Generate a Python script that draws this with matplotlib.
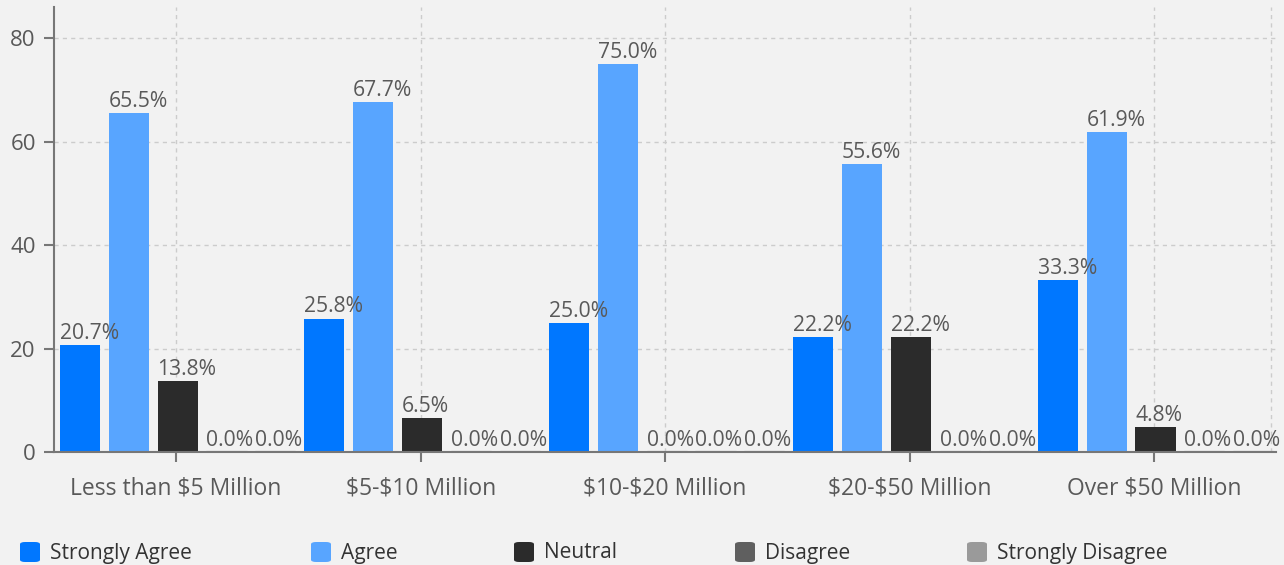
import numpy as np
import matplotlib.pyplot as plt
from matplotlib.patches import FancyBboxPatch

categories = ['Less than $5 Million', '$5-$10 Million', '$10-$20 Million',
              '$20-$50 Million', 'Over $50 Million']
series = ['Strongly Agree', 'Agree', 'Neutral', 'Disagree', 'Strongly Disagree']
strongly_agree = [20.7, 25.8, 25.0, 22.2, 33.3]
agree = [65.5, 67.7, 75.0, 55.6, 61.9]
neutral = [13.8, 6.5, 0.0, 22.2, 4.8]
disagree = [0.0, 0.0, 0.0, 0.0, 0.0]
strongly_disagree = [0.0, 0.0, 0.0, 0.0, 0.0]
yticks = [0, 20, 40, 60, 80]

colors = ['#0077ff', '#58a5ff', '#2b2b2b', '#5f5f5f', '#9a9a9a']
values = [strongly_agree, agree, neutral, disagree, strongly_disagree]

bg = '#f2f2f2'
txt = '#595959'
plt.rcParams['font.family'] = ['Open Sans', 'DejaVu Sans']
plt.rcParams['text.parse_math'] = False

fig = plt.figure(figsize=(12.84, 5.65), dpi=100, facecolor=bg)
ax = fig.add_axes([0.042, 0.2, 0.952, 0.7876])
ax.set_facecolor(bg)

x = np.arange(len(categories))
step, width = 0.2, 0.164
for i, (name, vals, c) in enumerate(zip(series, values, colors)):
    pos = x + (i - 2) * step + 0.006
    ax.bar(pos, vals, width, color=c, zorder=3)
    for p, v in zip(pos, vals):
        if v == 0:
            ax.plot([p - width / 2, p + width / 2], [0, 0], color='#cfcfcf',
                    lw=2.5, zorder=3, solid_capstyle='butt')
        ax.text(p - width / 2, v + 0.2, f'{v:.1f}%', ha='left', va='bottom',
                fontsize=15.2, color=txt, zorder=4)

ax.set_xlim(-0.5, 4.5)
ax.set_ylim(0, 86)
ax.set_yticks(yticks)
ax.set_xticks(x)
ax.set_xticklabels(categories)
ax.grid(True, color='#cccccc', linestyle=(0, (3, 3)), lw=1, zorder=0)
ax.axvline(4.48, color='#cccccc', linestyle=(0, (3, 3)), lw=1, zorder=0)

for s in ['top', 'right']:
    ax.spines[s].set_visible(False)
for s in ['left', 'bottom']:
    ax.spines[s].set_color('#777777')
    ax.spines[s].set_linewidth(1.5)
    ax.spines[s].set_zorder(5)
ax.tick_params(axis='y', length=7, width=1.5, color='#777777', labelsize=16,
               labelcolor=txt, pad=6)
ax.tick_params(axis='x', length=7, width=1.5, color='#777777', labelsize=16.5,
               labelcolor=txt, pad=11)

# legend row along the bottom
leg_x = [20, 311, 514, 735, 967]
for lx, name, c in zip(leg_x, series, colors):
    fx, fy = lx / 1284, (565 - 562) / 565
    patch = FancyBboxPatch((fx, fy), 20 / 1284, 20 / 565,
                           boxstyle='round,pad=0,rounding_size=0.004',
                           transform=fig.transFigure, facecolor=c,
                           edgecolor='none')
    fig.patches.append(patch)
    fig.text((lx + 30) / 1284, (565 - 553) / 565, name, ha='left',
             va='center', fontsize=15, color='#333333')

fig.savefig('out.png', dpi=100, facecolor=bg)
